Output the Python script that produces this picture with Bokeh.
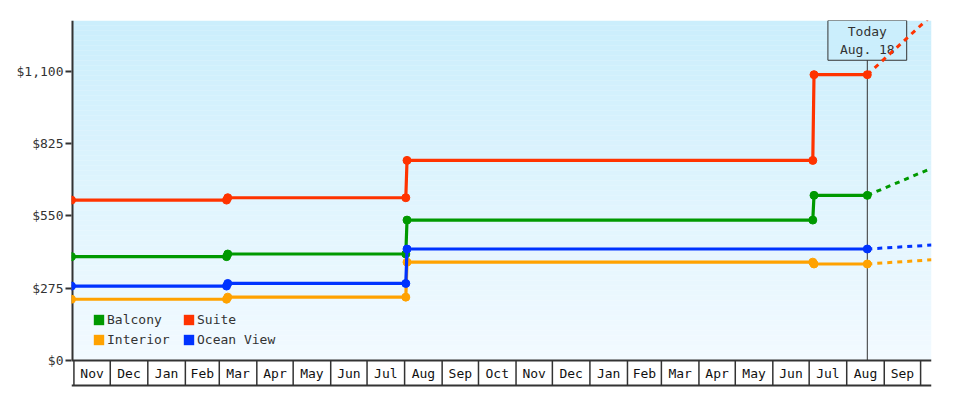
import pandas as pd
from bokeh.plotting import figure
from bokeh.models import (Range1d, FixedTicker, NumeralTickFormatter, Legend,
                          LegendItem, Label, Span)
from bokeh.core.properties import value
from bokeh.embed import file_html
from bokeh.resources import INLINE

# ---------------- data ----------------
series_names = ["Balcony", "Suite", "Interior", "Ocean View"]
series_colors = ["#009900", "#FF3300", "#FFA200", "#0033FF"]

step_dates = ["2012-10-30", "2013-03-07", "2013-03-08", "2013-08-02",
              "2013-08-03", "2014-07-04", "2014-07-05", "2014-08-18"]
ocean_dates = ["2012-10-30", "2013-03-07", "2013-03-08", "2013-08-02",
               "2013-08-03", "2014-08-18"]

balcony_prices = [395, 395, 405, 405, 534, 534, 628, 628]
suite_prices = [610, 610, 619, 619, 761, 761, 1087, 1087]
interior_prices = [233, 233, 241, 241, 374, 374, 367, 367]
ocean_prices = [283, 283, 293, 293, 424, 424]

projection_dates = ["2014-08-18", "2014-10-10"]
balcony_projection = [628, 731]
suite_projection = [1087, 1312]
interior_projection = [367, 383]
ocean_projection = [424, 439]

today = "2014-08-18"
today_text = "Today\nAug. 18"

x_start, x_end = "2012-10-30", "2014-10-10"
y_ticks = [0, 275, 550, 825, 1100]
y_end = 1293

month_labels = ["Nov", "Dec", "Jan", "Feb", "Mar", "Apr", "May", "Jun", "Jul",
                "Aug", "Sep", "Oct", "Nov", "Dec", "Jan", "Feb", "Mar", "Apr",
                "May", "Jun", "Jul", "Aug", "Sep"]
first_month = "2012-11-01"

# ---------------- helpers ----------------
def d(s):
    return pd.to_datetime(s)

month_starts = list(pd.date_range(first_month, periods=len(month_labels) + 1, freq="MS"))
month_mids = [month_starts[i] + (month_starts[i + 1] - month_starts[i]) / 2
              for i in range(len(month_labels))]

FONT = "DejaVu Sans Mono"
DARK = "#333333"
LEFT, RIGHT, TOP = 71, 49, 20
PLOT_H = 340            # price area height in px
STRIP_H = 27            # month strip height in px (inside the frame, below $0)
px = y_end / PLOT_H     # dollars per pixel
y_low = -STRIP_H * px
strip_top = 0
strip_bottom = -25 * px
strip_mid = -12.7 * px

series = [
    ("Balcony", series_colors[0], step_dates, balcony_prices, balcony_projection),
    ("Suite", series_colors[1], step_dates, suite_prices, suite_projection),
    ("Interior", series_colors[2], step_dates, interior_prices, interior_projection),
    ("Ocean View", series_colors[3], ocean_dates, ocean_prices, ocean_projection),
]

# ---------------- figure ----------------
p = figure(x_axis_type="datetime", x_axis_location=None,
           x_range=Range1d(d(x_start), d(x_end)), y_range=Range1d(y_low, y_end),
           frame_width=860, frame_height=PLOT_H + STRIP_H,
           min_border_left=LEFT, min_border_right=RIGHT, min_border_top=TOP,
           min_border_bottom=4,
           output_backend="svg", toolbar_location=None,
           background_fill_color="white", border_fill_color="white",
           outline_line_color=None)
p.grid.visible = False

# gradient background (styling bands over the price area)
nb = 68
top_rgb = (203, 238, 252)
bot_rgb = (242, 250, 255)
bands_b, bands_t, bands_c = [], [], []
for i in range(nb):
    f = i / (nb - 1)
    r = round(bot_rgb[0] + (top_rgb[0] - bot_rgb[0]) * f)
    g = round(bot_rgb[1] + (top_rgb[1] - bot_rgb[1]) * f)
    b = round(bot_rgb[2] + (top_rgb[2] - bot_rgb[2]) * f)
    bands_b.append(y_end * i / nb)
    bands_t.append(min(y_end * (i + 1) / nb + 1, y_end))
    bands_c.append("#%02x%02x%02x" % (r, g, b))
bg = p.quad(left=[d(x_start)] * nb, right=[d(x_end)] * nb, bottom=bands_b, top=bands_t,
            fill_color=bands_c, line_color=None)
bg.level = "image"

# y axis line (only over the price area)
yline = p.segment(x0=[d(x_start)], y0=[0], x1=[d(x_start)], y1=[y_end],
                  line_color=DARK, line_width=4)
yline.level = "image"

# today line + box
tline = p.segment(x0=[d(today)], y0=[0], x1=[d(today)], y1=[y_end],
                  line_color=DARK, line_width=1)
tline.level = "image"
today_label = Label(x=d(today), y=PLOT_H + STRIP_H, y_units="screen", text=today_text,
                    text_align="center", text_baseline="top",
                    text_font=FONT, text_font_size="13px", text_color=DARK,
                    text_line_height=1.25,
                    background_fill_color="#cbeefc", border_line_color=DARK,
                    border_line_width=1, padding=dict(left=12, right=12, top=3, bottom=3),
                    level="underlay")
p.add_layout(today_label)

# series
for name, color, dates, prices, proj in series:
    xs = [d(s) for s in dates]
    p.line(xs, prices, line_color=color, line_width=3.2)
    p.scatter(xs, prices, marker="circle", size=8, fill_color=color, line_color=color)
    p.line([d(s) for s in projection_dates], proj, line_color=color, line_width=3,
           line_dash="5 5")

# legend swatches (renderers with a single non-drawn point)
nan = float("nan")
swatch = {}
for name, color in zip(series_names, series_colors):
    swatch[name] = p.quad(left=[nan], right=[nan], top=[nan], bottom=[nan],
                          fill_color=color, line_color=None)

def make_legend(names, loc):
    lg = Legend(items=[LegendItem(label=n, renderers=[swatch[n]]) for n in names],
                location=loc, orientation="horizontal", padding=0, margin=0,
                spacing=11, label_width=64, glyph_width=13, glyph_height=13,
                label_height=13, label_standoff=2,
                label_text_font=FONT, label_text_font_size="13px",
                label_text_color=DARK, background_fill_alpha=0,
                border_line_color=None)
    p.add_layout(lg, "center")

make_legend(["Balcony", "Suite"], (21, 33 + STRIP_H))
make_legend(["Interior", "Ocean View"], (21, 13 + STRIP_H))

# y axis
ax = p.yaxis[0]
ax.ticker = FixedTicker(ticks=y_ticks)
ax.formatter = NumeralTickFormatter(format="$0,0")
ax.axis_line_color = None
ax.major_tick_line_color = DARK
ax.major_tick_line_width = 2
ax.major_tick_out = 6
ax.major_tick_in = 0
ax.minor_tick_line_color = None
ax.major_label_text_font = FONT
ax.major_label_text_font_size = "13px"
ax.major_label_text_color = DARK
ax.major_label_standoff = 2

# ---------------- month strip (below $0) ----------------
p.add_layout(Span(location=strip_top, dimension="width", line_color=DARK, line_width=2))
p.add_layout(Span(location=strip_bottom, dimension="width", line_color=DARK, line_width=2))
p.segment(x0=month_starts, y0=[strip_bottom] * len(month_starts), x1=month_starts,
          y1=[strip_top] * len(month_starts), line_color=DARK, line_width=1.5)
p.text(x=month_mids, y=[strip_mid] * len(month_mids), text=month_labels,
       text_align="center", text_baseline="middle", text_font=value(FONT),
       text_font_size="13px", text_color="#111111")

open("out.html", "w").write(file_html(p, INLINE))
